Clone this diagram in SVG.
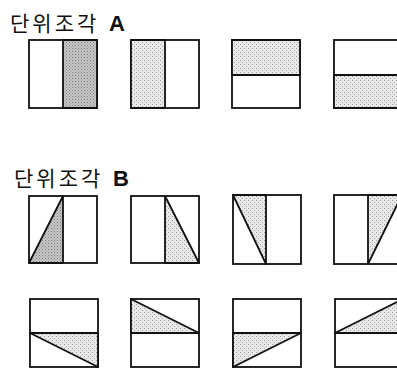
<svg xmlns="http://www.w3.org/2000/svg" width="397" height="369" viewBox="0 0 397 369">
<style>
.t{font-family:"Noto Sans CJK KR","Liberation Sans",sans-serif;font-size:21px;fill:#111;letter-spacing:3px}
.b{font-family:"Liberation Sans",sans-serif;font-weight:bold;font-size:22px;letter-spacing:0}
.box{fill:#fff;stroke:#111;stroke-width:1.8}
.ln{stroke:#111;stroke-width:1.8;fill:none}
.lt{fill:url(#light);stroke:#111;stroke-width:1.8;stroke-linejoin:round}
.dk{fill:url(#dark);stroke:#111;stroke-width:1.8;stroke-linejoin:round}
</style>
<defs>
<pattern id="light" width="4" height="4" patternUnits="userSpaceOnUse">
<rect width="4" height="4" fill="#e8e8e8"/>
<rect x="0" y="0" width="1" height="1" fill="#9a9a9a"/>
<rect x="2" y="2" width="1" height="1" fill="#aaa"/>
</pattern>
<pattern id="dark" width="3" height="3" patternUnits="userSpaceOnUse">
<rect width="3" height="3" fill="#c8c8c8"/>
<rect x="0" y="0" width="1" height="1" fill="#7a7a7a"/>
<rect x="1.5" y="1.5" width="1" height="1" fill="#888"/>
</pattern>
</defs>
<g id="title-a"><text class="t" x="10" y="31">단위조각 <tspan class="b" dx="2">A</tspan></text></g>
<g id="title-b"><text class="t" x="14" y="186">단위조각 <tspan class="b" dx="2">B</tspan></text></g>

<g id="a1"><rect class="box" x="29" y="40" width="68" height="68"/><rect class="dk" x="63" y="40" width="34" height="68"/></g>
<g id="a2"><rect class="box" x="131" y="40" width="68" height="68"/><rect class="lt" x="131" y="40" width="34" height="68"/></g>
<g id="a3"><rect class="box" x="232" y="40" width="68" height="68"/><rect class="lt" x="232" y="40" width="68" height="35"/></g>
<g id="a4"><rect class="box" x="334" y="40" width="68" height="68"/><rect class="lt" x="334" y="75" width="68" height="33"/></g>

<g id="b1"><rect class="box" x="29" y="196" width="68" height="67"/><polygon class="dk" points="63,196 29,263 63,263"/></g>
<g id="b2"><rect class="box" x="131" y="196" width="68" height="67"/><polygon class="lt" points="165,196 199,263 165,263"/></g>
<g id="b3"><rect class="box" x="233" y="195" width="68" height="69"/><polygon class="lt" points="233,195 266,195 266,264"/></g>
<g id="b4"><rect class="box" x="334" y="195" width="68" height="69"/><polygon class="lt" points="368,195 402,195 368,264"/></g>

<g id="c1"><rect class="box" x="30" y="299" width="68" height="68"/><polygon class="lt" points="30,333 98,333 98,367"/><line class="ln" x1="30" y1="333" x2="98" y2="333"/></g>
<g id="c2"><rect class="box" x="131" y="299" width="68" height="68"/><polygon class="lt" points="131,299 131,333 199,333"/><line class="ln" x1="131" y1="333" x2="199" y2="333"/></g>
<g id="c3"><rect class="box" x="233" y="299" width="68" height="68"/><polygon class="lt" points="233,333 301,333 233,367"/><line class="ln" x1="233" y1="333" x2="301" y2="333"/></g>
<g id="c4"><rect class="box" x="335" y="299" width="68" height="68"/><polygon class="lt" points="335,333 403,299 403,333"/><line class="ln" x1="335" y1="333" x2="403" y2="333"/></g>
<g id="connectors"></g>
</svg>
